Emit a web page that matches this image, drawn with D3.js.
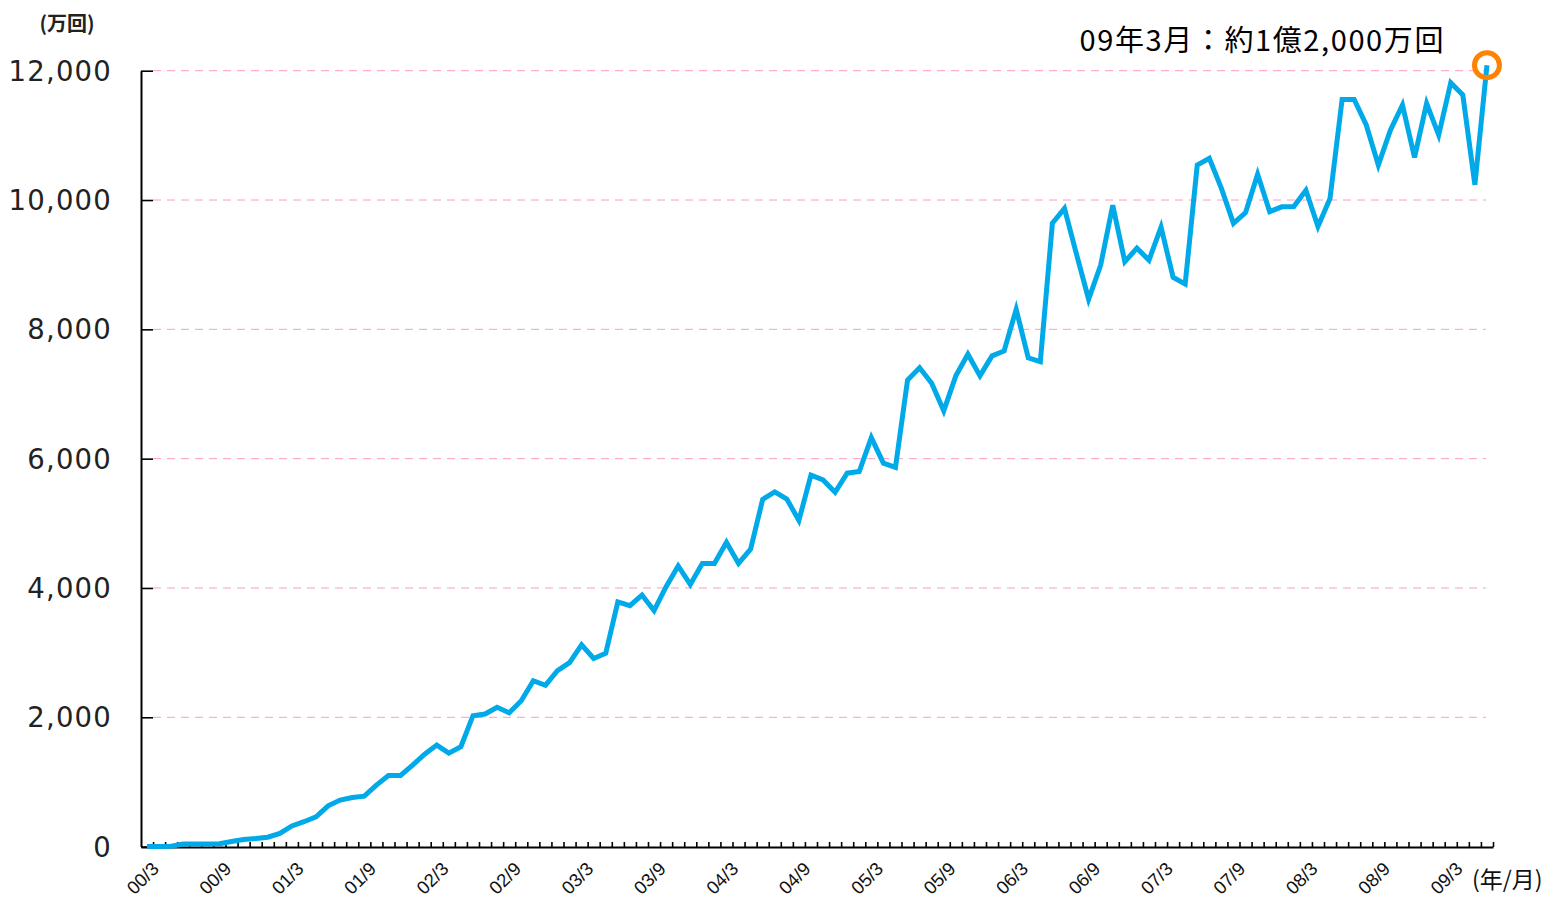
<!DOCTYPE html>
<html><head><meta charset="utf-8">
<script src="https://cdn.jsdelivr.net/npm/d3@7"></script>
<style>body{margin:0;background:#fff;} svg{display:block}</style>
</head><body>
<svg id="chart" width="1547" height="901"></svg>
<script>
const categories = [
 "00/3","00/4","00/5","00/6","00/7","00/8","00/9","00/10","00/11","00/12",
 "01/1","01/2","01/3","01/4","01/5","01/6","01/7","01/8","01/9","01/10","01/11","01/12",
 "02/1","02/2","02/3","02/4","02/5","02/6","02/7","02/8","02/9","02/10","02/11","02/12",
 "03/1","03/2","03/3","03/4","03/5","03/6","03/7","03/8","03/9","03/10","03/11","03/12",
 "04/1","04/2","04/3","04/4","04/5","04/6","04/7","04/8","04/9","04/10","04/11","04/12",
 "05/1","05/2","05/3","05/4","05/5","05/6","05/7","05/8","05/9","05/10","05/11","05/12",
 "06/1","06/2","06/3","06/4","06/5","06/6","06/7","06/8","06/9","06/10","06/11","06/12",
 "07/1","07/2","07/3","07/4","07/5","07/6","07/7","07/8","07/9","07/10","07/11","07/12",
 "08/1","08/2","08/3","08/4","08/5","08/6","08/7","08/8","08/9","08/10","08/11","08/12",
 "09/1","09/2","09/3","09/4","09/5","09/6"
];
const values = [
 0,0,5,40,40,40,45,80,110,125,
 145,205,320,385,460,630,720,760,780,950,1100,1100,
 1260,1430,1570,1445,1545,2025,2050,2155,2070,2255,2565,2495,
 2720,2845,3120,2910,2990,3785,3725,3890,3650,4020,4340,4055,
 4380,4380,4705,4380,4600,5370,5485,5375,5045,5745,5670,5480,
 5775,5800,6325,5930,5865,7215,7405,7165,6740,7280,7615,7280,
 7590,7665,8310,7560,7500,9640,9870,9160,8465,8995,9920,9045,
 9255,9070,9580,8805,8700,10540,10645,10180,9640,9805,10400,9820,
 9895,9900,10150,9590,10025,11555,11555,11160,10540,11080,11470,10660,
 11495,11005,11815,11625,10235,12085
];
const yTicks = [0,2000,4000,6000,8000,10000,12000];
const xTickLabels = ["00/3","00/9","01/3","01/9","02/3","02/9","03/3","03/9","04/3","04/9",
 "05/3","05/9","06/3","06/9","07/3","07/9","08/3","08/9","09/3"];
const yUnit = "(万回)";
const xUnit = "(年/月)";
const note = "09年3月：約1億2,000万回";

const svg = d3.select("#chart");
const x = d3.scaleBand().domain(categories).range([141,1493]).padding(0);
const y = d3.scaleLinear().domain([0,12000]).range([846.6,70.7]);
const cx = d => x(d) + x.bandwidth()/2;

// gridlines
svg.append("g").selectAll("line").data(yTicks.filter(v=>v>0)).join("line")
  .attr("x1",153).attr("x2",1486).attr("y1",d=>y(d)).attr("y2",d=>y(d))
  .attr("stroke","#FF9ACB").attr("stroke-width",1).attr("stroke-dasharray","8,6");

// y axis
const yAxis = d3.axisRight(y).tickValues(yTicks).tickSize(12).tickSizeOuter(0).tickFormat("");
svg.append("g").attr("transform","translate(141,0)").call(yAxis)
  .call(g=>g.select(".domain").attr("stroke","#000").attr("stroke-width",2))
  .call(g=>g.selectAll(".tick line").attr("stroke","#000").attr("stroke-width",1.6));

// y labels
svg.append("g").selectAll("text").data(yTicks).join("text")
  .attr("x",112).attr("y",d=>y(d)+10)
  .attr("text-anchor","end")
  .attr("font-family","DejaVu Sans").attr("font-size",27.5).attr("letter-spacing",1.2)
  .attr("fill","#222")
  .text(d=>d3.format(",")(d));

// x axis
const xAxisScale = d3.scaleLinear().domain([0,categories.length]).range([141,1493]);
const xAxis = d3.axisTop(xAxisScale).tickValues(d3.range(1,categories.length+1)).tickSize(5).tickSizeOuter(0).tickFormat("");
svg.append("g").attr("transform","translate(0,847)").call(xAxis)
  .call(g=>g.select(".domain").attr("stroke","#000").attr("stroke-width",2))
  .call(g=>g.selectAll(".tick line").attr("stroke","#000").attr("stroke-width",1.6));

// x labels
svg.append("g").selectAll("text").data(xTickLabels).join("text")
  .attr("transform",d=>`translate(${cx(d)+13},870) rotate(-45)`)
  .attr("text-anchor","end")
  .attr("font-family","Liberation Sans").attr("font-size",18.5).attr("fill","#111")
  .text(d=>d);

// line
const line = d3.line().x((d,i)=>cx(categories[i])).y(d=>y(d));
svg.append("path").datum(values).attr("d",line)
  .attr("fill","none").attr("stroke","#00AAE8").attr("stroke-width",5)
  .attr("stroke-linejoin","miter");

// highlight circle
const last = categories.length-1;
svg.append("circle").attr("cx",cx(categories[last])).attr("cy",y(values[last])).attr("r",12.5)
  .attr("fill","none").attr("stroke","#FF8200").attr("stroke-width",5);

// texts
svg.append("text").attr("x",67).attr("y",31).attr("text-anchor","middle")
  .attr("font-family","Noto Sans CJK JP").attr("font-weight","bold").attr("font-size",20).attr("fill","#222")
  .text(yUnit);
svg.append("text").attr("x",1472).attr("y",888)
  .attr("font-family","Noto Sans CJK JP").attr("font-size",23).attr("fill","#111")
  .text(xUnit);
svg.append("text").attr("x",1445).attr("y",51).attr("text-anchor","end")
  .attr("font-family","Noto Sans CJK JP").attr("font-size",29).attr("letter-spacing",1.6).attr("fill","#000")
  .text(note);
</script>
</body></html>
